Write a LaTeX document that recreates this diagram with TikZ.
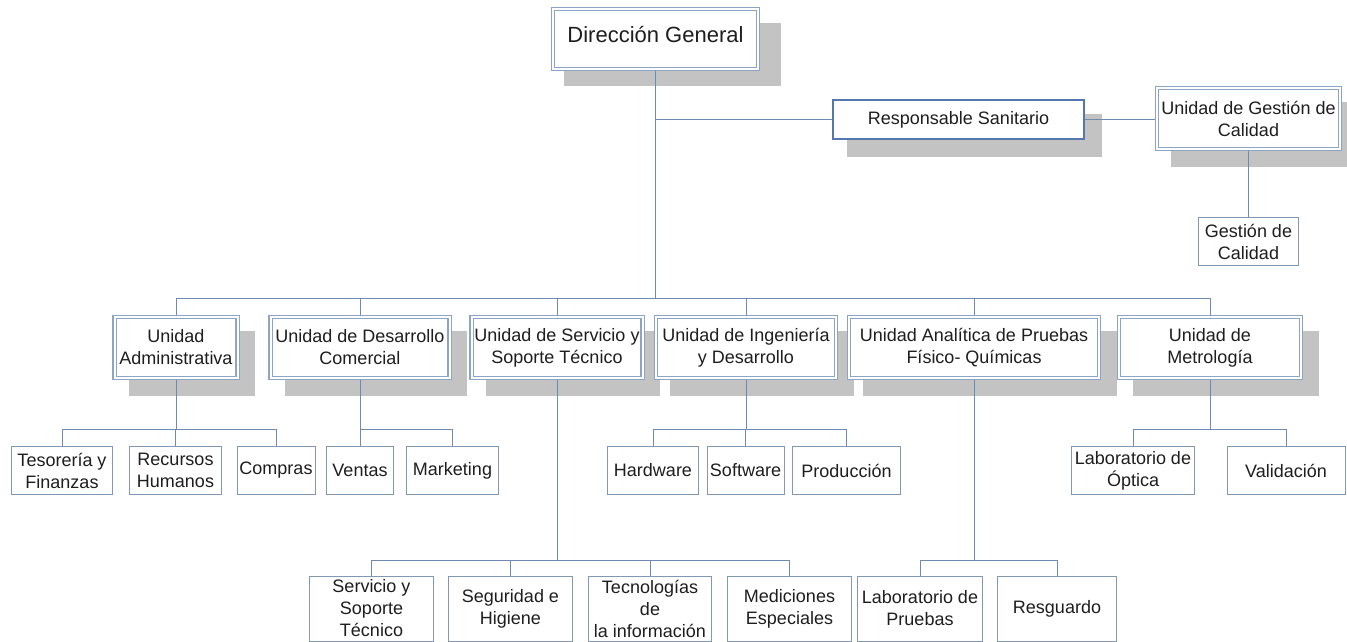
\documentclass[tikz,border=0pt]{standalone}
\usepackage{fontspec}
\setmainfont{Liberation Sans}
\definecolor{dblc}{HTML}{8CA5C6}
\definecolor{sblc}{HTML}{8197B3}
\definecolor{linec}{HTML}{6F8AAE}
\definecolor{rsc}{HTML}{5477AE}
\definecolor{shc}{HTML}{C3C3C3}
\definecolor{txtc}{HTML}{1E1E1E}
\newcommand\fsA{\fontsize{18}{22}\selectfont}
\newcommand\fsB{\fontsize{22}{26}\selectfont}
\pgfdeclarelayer{bg}
\pgfdeclarelayer{mid}
\pgfsetlayers{bg,mid,main}
\begin{document}
\begin{tikzpicture}[x=1pt,y=-1pt,
  dbox/.style={draw=dblc, double=white, double distance=2pt, line width=1.1pt, fill=white,
    align=center, inner sep=0pt, font=\fsA, text=txtc},
  sbox/.style={draw=sblc, line width=1pt, fill=white, align=center, inner sep=0pt,
    font=\fsA, text=txtc, minimum height=48pt},
  bbox/.style={draw=sblc, line width=1pt, fill=white, align=center, inner sep=0pt,
    font=\fsA, text=txtc, minimum height=65pt, minimum width=124pt},
  ubox/.style={dbox, minimum height=61pt},
  conn/.style={draw=linec, line width=1pt}]
\useasboundingbox (0,0) rectangle (1347,642);
\begin{pgfonlayer}{bg}
\fill[white] (0,0) rectangle (1347,642);
\end{pgfonlayer}

% top
\node[dbox, font=\fsB, minimum width=205pt, minimum height=60pt, text height=16pt, text depth=8pt] (dg) at (655.5,39) {Dirección General};
\node[draw=rsc, line width=2.2pt, fill=white, inner sep=0pt, font=\fsA, text=txtc,
  minimum width=251pt, minimum height=39pt] (rs) at (958.5,119.5) {Responsable Sanitario};
\node[dbox, minimum width=183pt, minimum height=61pt] (ugc) at (1248.5,118.5) {Unidad de Gestión de\\Calidad};
\node[sbox, minimum width=100pt] (gc) at (1248.5,241.5) {Gestión de\\Calidad};

% units
\node[ubox, minimum width=123pt] (adm) at (176,347.5) {Unidad\\Administrativa};
\node[ubox, minimum width=179pt] (com) at (360,347.5) {Unidad de Desarrollo\\Comercial};
\node[ubox, minimum width=171pt] (ser) at (557,347.5) {Unidad de Servicio y\\Soporte Técnico};
\node[ubox, minimum width=180pt] (ing) at (746,347.5) {Unidad de Ingeniería\\y Desarrollo};
\node[ubox, minimum width=250pt] (ana) at (974,347.5) {Unidad Analítica de Pruebas\\Físico- Químicas};
\node[ubox, minimum width=182pt] (met) at (1210,347.5) {Unidad de\\Metrología};

% second level
\node[sbox, minimum width=101pt] (tes) at (62,470.5) {Tesorería y\\Finanzas};
\node[sbox, minimum width=92pt] (rh) at (175.5,470.5) {Recursos\\Humanos};
\node[sbox, minimum width=78pt] (cmp) at (276,470.5) {Compras};
\node[sbox, minimum width=67pt] (ven) at (360,470.5) {Ventas};
\node[sbox, minimum width=92pt] (mkt) at (452.5,470.5) {Marketing};
\node[sbox, minimum width=91pt] (hw) at (653,470.5) {Hardware};
\node[sbox, minimum width=77pt] (sw) at (745.5,470.5) {Software};
\node[sbox, minimum width=108pt] (pro) at (846.5,470.5) {Producción};
\node[sbox, minimum width=123pt] (lop) at (1133,470.5) {Laboratorio de\\Óptica};
\node[sbox, minimum width=118pt] (val) at (1286,470.5) {Validación};

% bottom level
\node[bbox] (s1) at (371.5,608.5) {Servicio y\\Soporte\\Técnico};
\node[bbox] (s2) at (510.5,608.5) {Seguridad e\\Higiene};
\node[bbox, minimum width=123pt] (s3) at (650,608.5) {Tecnologías\\de\\la información};
\node[bbox] (s4) at (789.5,608.5) {Mediciones\\Especiales};
\node[bbox, minimum width=125pt] (lp) at (920,608.5) {Laboratorio de\\Pruebas};
\node[bbox, minimum width=119pt] (res) at (1057,608.5) {Resguardo};

% shadows
\begin{pgfonlayer}{bg}
\fill[shc] ([shift={(12pt,-15pt)}]dg.north west) rectangle ([shift={(22pt,-16pt)}]dg.south east);
\foreach \n in {rs,ugc,adm,com,ser,ing,ana,met}
  \fill[shc] ([shift={(15pt,-15pt)}]\n.north west) rectangle ([shift={(17pt,-17pt)}]\n.south east);
\end{pgfonlayer}

% connectors
\coordinate (b0) at (0,298.5);
\coordinate (b1) at (0,429);
\coordinate (b2) at (0,560.5);
\begin{pgfonlayer}{mid}
\draw[conn] (dg.south) -- (dg.south |- b0);
\draw[conn] (dg.south |- rs.west) -- (rs.west);
\draw[conn] (rs.east) -- (rs.east -| ugc.west);
\draw[conn] (ugc.south) -- (gc.north);
\draw[conn] (adm.north) -- (adm.north |- b0) -- (met.north |- b0) -- (met.north);
\foreach \n in {com,ser,ing,ana} \draw[conn] (\n.north) -- (\n.north |- b0);
% admin
\draw[conn] (adm.south) -- (adm.south |- b1);
\draw[conn] (tes.north) -- (tes.north |- b1) -- (cmp.north |- b1) -- (cmp.north);
\draw[conn] (rh.north) -- (rh.north |- b1);
% comercial
\draw[conn] (com.south) -- (ven.north);
\draw[conn] (ven.north |- b1) -- (mkt.north |- b1) -- (mkt.north);
% ingenieria
\draw[conn] (ing.south) -- (ing.south |- b1);
\draw[conn] (hw.north) -- (hw.north |- b1) -- (pro.north |- b1) -- (pro.north);
\draw[conn] (sw.north) -- (sw.north |- b1);
% metrologia
\draw[conn] (met.south) -- (met.south |- b1);
\draw[conn] (lop.north) -- (lop.north |- b1) -- (val.north |- b1) -- (val.north);
% servicio
\draw[conn] (ser.south) -- (ser.south |- b2);
\draw[conn] (s1.north) -- (s1.north |- b2) -- (s4.north |- b2) -- (s4.north);
\draw[conn] (s2.north) -- (s2.north |- b2);
\draw[conn] (s3.north) -- (s3.north |- b2);
% analitica
\draw[conn] (ana.south) -- (ana.south |- b2);
\draw[conn] (lp.north) -- (lp.north |- b2) -- (res.north |- b2) -- (res.north);
\end{pgfonlayer}
\end{tikzpicture}
\end{document}
